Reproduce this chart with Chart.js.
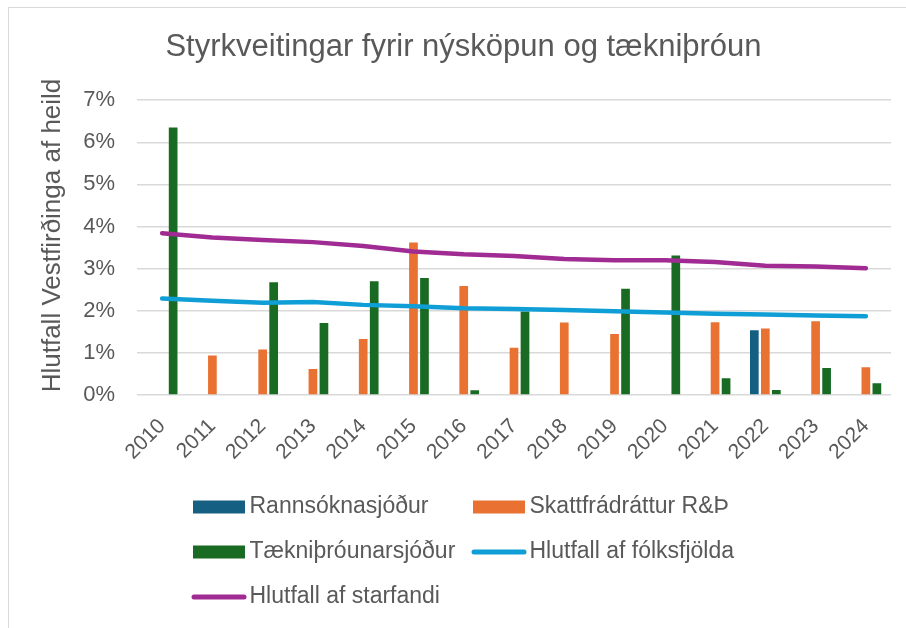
<!DOCTYPE html>
<html lang="is">
<head>
<meta charset="utf-8">
<title>Styrkveitingar fyrir nýsköpun og tækniþróun</title>
<script src="https://cdn.jsdelivr.net/npm/chart.js@4.4.1/dist/chart.umd.min.js"></script>
<style>
  html, body { margin: 0; padding: 0; background: #fff; }
  canvas { display: block; }
</style>
</head>
<body>
<canvas id="myChart" width="906" height="628"></canvas>
<script>
// Ár
const years = ['2010', '2011', '2012', '2013', '2014', '2015', '2016', '2017',
               '2018', '2019', '2020', '2021', '2022', '2023', '2024'];

// Hlutfall Vestfirðinga af heild, í %
const rannsoknasjodur = [null, null, null, null, null, null, null, null,
                         null, null, null, null, 1.54, null, null];
const skattfradrattur = [null, 0.94, 1.08, 0.62, 1.33, 3.62, 2.59, 1.12,
                         1.72, 1.45, null, 1.73, 1.58, 1.75, 0.66];
const taeknithrounarsjodur = [6.35, null, 2.68, 1.71, 2.70, 2.78, 0.11, 1.98,
                              null, 2.52, 3.31, 0.40, 0.12, 0.64, 0.28];
const hlutfallFolksfjolda = [2.29, 2.24, 2.19, 2.21, 2.14, 2.11, 2.06, 2.04,
                             2.02, 1.99, 1.96, 1.93, 1.91, 1.89, 1.87];
const hlutfallStarfandi = [3.84, 3.74, 3.68, 3.63, 3.54, 3.41, 3.34, 3.30,
                           3.23, 3.20, 3.20, 3.16, 3.07, 3.05, 3.01];

const percentTicks = [0, 1, 2, 3, 4, 5, 6, 7];

Chart.defaults.font.family = '"Liberation Sans", Arial, sans-serif';
Chart.defaults.color = '#595959';

// thin frame round the chart
const chartFrame = {
  id: 'chartFrame',
  beforeDraw(chart) {
    const ctx = chart.ctx;
    ctx.save();
    ctx.strokeStyle = '#d9d9d9';
    ctx.lineWidth = 1;
    ctx.strokeRect(8.5, 7.5, chart.width + 20, chart.height + 20);
    ctx.restore();
  }
};

// y axis title, centred a little above the plot middle
const yTitle = {
  id: 'yTitle',
  afterDraw(chart, args, opts) {
    const ctx = chart.ctx;
    ctx.save();
    ctx.translate(opts.x, opts.y);
    ctx.rotate(-Math.PI / 2);
    ctx.font = opts.font;
    ctx.fillStyle = opts.color;
    ctx.textAlign = 'center';
    ctx.textBaseline = 'middle';
    ctx.fillText(opts.text, 0, 0);
    ctx.restore();
  }
};

// legend laid out in two fixed columns
const gridLegend = {
  id: 'gridLegend',
  afterDraw(chart, args, opts) {
    const ctx = chart.ctx;
    ctx.save();
    ctx.font = opts.font;
    ctx.textBaseline = 'middle';
    chart.data.datasets.forEach((ds, i) => {
      const x = opts.columns[i % opts.columns.length];
      const y = opts.rows[Math.floor(i / opts.columns.length)];
      if (ds.type === 'line') {
        ctx.strokeStyle = ds.borderColor;
        ctx.lineWidth = 5;
        ctx.lineCap = 'round';
        ctx.beginPath();
        ctx.moveTo(x + 1, y);
        ctx.lineTo(x + 51, y);
        ctx.stroke();
      } else {
        ctx.fillStyle = ds.backgroundColor;
        ctx.fillRect(x, y - 6.5, 52, 13);
      }
      ctx.fillStyle = opts.color;
      ctx.fillText(ds.label, x + 56.5, y);
    });
    ctx.restore();
  }
};

const data = {
  labels: years,
  datasets: [
    { type: 'bar', label: 'Rannsóknasjóður', data: rannsoknasjodur,
      backgroundColor: '#156082', order: 1 },
    { type: 'bar', label: 'Skattfrádráttur R&Þ', data: skattfradrattur,
      backgroundColor: '#e97132', order: 1 },
    { type: 'bar', label: 'Tækniþróunarsjóður', data: taeknithrounarsjodur,
      backgroundColor: '#196b24', order: 1 },
    { type: 'line', label: 'Hlutfall af fólksfjölda', data: hlutfallFolksfjolda,
      borderColor: '#0f9ed5', backgroundColor: '#0f9ed5', borderWidth: 4.5,
      pointRadius: 0, borderCapStyle: 'round', borderJoinStyle: 'round', order: 0 },
    { type: 'line', label: 'Hlutfall af starfandi', data: hlutfallStarfandi,
      borderColor: '#a02b93', backgroundColor: '#a02b93', borderWidth: 4.5,
      pointRadius: 0, borderCapStyle: 'round', borderJoinStyle: 'round', order: 0 }
  ]
};

const config = {
  type: 'bar',
  data: data,
  options: {
    responsive: false,
    animation: false,
    categoryPercentage: 0.657,
    barPercentage: 0.79,
    layout: { padding: { left: 36, right: 15, top: 0, bottom: 158 } },
    plugins: {
      legend: { display: false },
      tooltip: { enabled: false },
      title: {
        display: true,
        text: 'Styrkveitingar fyrir nýsköpun og tækniþróun',
        font: { size: 31, weight: 'normal' },
        color: '#595959',
        padding: { top: 29, bottom: 34 }
      },
      yTitle: {
        text: 'Hlutfall Vestfirðinga af heild',
        x: 52.6,
        y: 235.5,
        font: '26px "Liberation Sans", Arial, sans-serif',
        color: '#595959'
      },
      gridLegend: {
        columns: [193, 473],
        rows: [507, 552, 597],
        font: '23px "Liberation Sans", Arial, sans-serif',
        color: '#595959'
      }
    },
    scales: {
      x: {
        grid: { display: false },
        border: { display: false },
        ticks: { autoSkip: false, maxRotation: 45, minRotation: 45,
                 font: { size: 21 }, padding: 11 },
        afterFit(scale) { scale.height = 75; }
      },
      y: {
        min: 0,
        max: 7,
        afterBuildTicks(scale) {
          scale.ticks = percentTicks.map(v => ({ value: v }));
        },
        grid: { color: '#d9d9d9', lineWidth: 1.5, drawTicks: false },
        border: { display: false },
        ticks: { font: { size: 22 }, padding: 22, callback: v => v + '%' },
        afterFit(scale) { scale.width = 101; }
      }
    }
  },
  plugins: [chartFrame, yTitle, gridLegend]
};

const myChart = new Chart(document.getElementById('myChart'), config);
</script>
</body>
</html>
